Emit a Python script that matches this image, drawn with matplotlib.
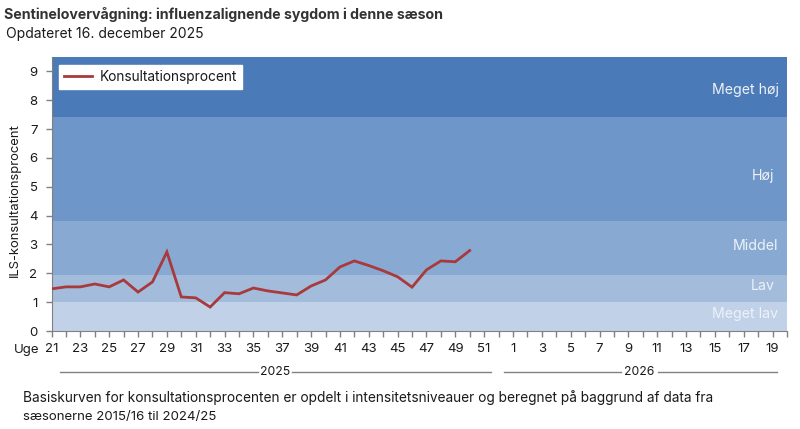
import matplotlib
matplotlib.use('Agg')
import matplotlib.pyplot as plt
from matplotlib.lines import Line2D
from matplotlib.transforms import blended_transform_factory

plt.rcParams['font.family'] = ['Inter', 'DejaVu Sans']

# Week axis runs 21-52 of 2025 and 1-20 of 2026
week_labels = list(range(21, 53)) + list(range(1, 21))
ils_values = [1.46, 1.53, 1.53, 1.63, 1.53, 1.77, 1.35, 1.70, 2.74, 1.18,
              1.15, 0.83, 1.33, 1.29, 1.49, 1.39, 1.32, 1.25, 1.56, 1.77,
              2.22, 2.43, 2.27, 2.09, 1.88, 1.52, 2.12, 2.43, 2.40, 2.79]
band_edges = [0, 1.0, 1.94, 3.8, 7.43, 9.5]
band_colors = ['#c0d1e8', '#a3bcdc', '#88aad2', '#6e96c8', '#4a7ab7']
band_names = ['Meget lav', 'Lav', 'Middel', 'H\u00f8j', 'Meget h\u00f8j']

W, H = 800, 429
GREY = '#808080'
TXT = '#1a1a1a'
LINE = '#a83a3c'

fig = plt.figure(figsize=(W / 100, H / 100), dpi=100)
ax = fig.add_axes([51.5 / W, 1 - 331 / H, 735.5 / W, 274 / H])

# band label anchors, right edge and centre in pixels
label_right = [778, 775, 778, 774, 779]
label_mid = [314, 286, 246, 176, 90]
for i, name in enumerate(band_names):
    ax.axhspan(band_edges[i], band_edges[i + 1], color=band_colors[i], lw=0, zorder=0)
    fig.text(label_right[i] / W, 1 - label_mid[i] / H, name, ha='right', va='center',
             color='#eef2f8', fontsize=10.2)

x = list(range(len(ils_values)))
ax.plot(x, ils_values, color=LINE, lw=2, solid_joinstyle='miter', zorder=3)

ax.set_xlim(0, len(week_labels) - 1)
ax.set_ylim(0, 9.5)
ax.set_yticks(range(0, 10))
ax.set_xticks(range(len(week_labels)))
ax.set_xticklabels([str(w) if i % 2 == 0 else '' for i, w in enumerate(week_labels)])
ax.tick_params(axis='both', color=GREY, length=4, width=1, labelsize=9.5, labelcolor=TXT)
ax.tick_params(axis='x', pad=5)
ax.tick_params(axis='y', pad=6)
for side in ['top', 'right']:
    ax.spines[side].set_visible(False)
for side in ['left', 'bottom']:
    ax.spines[side].set_color(GREY)
ax.set_ylabel('ILS-konsultationsprocent', fontsize=9.4, color=TXT)
ax.yaxis.set_label_coords(-30.5 / 735.5, (331 - 200) / 274)

# white legend box in the top left corner
handle = Line2D([0], [0], color=LINE, lw=2)
leg = ax.legend([handle], ['Konsultationsprocent'], loc='upper left',
                bbox_to_anchor=(7.5 / 735.5, 1 - 8 / 274), borderaxespad=0,
                fancybox=False, framealpha=1, edgecolor='white', facecolor='white',
                fontsize=9.85, handlelength=2.05, handletextpad=0.6, borderpad=0.35)
for t in leg.get_texts():
    t.set_color(TXT)

# year brackets under the week labels
trans = blended_transform_factory(ax.transData, fig.transFigure)
y_year = 1 - 372 / H
year_rows = [('2025', 0.6, 14.32, 16.68, 30.5), ('2026', 31.4, 39.5, 42.07, 50.3)]
for year, x0, x1, x2, x3 in year_rows:
    ax.plot([x0, x1], [y_year, y_year], transform=trans, color=GREY, lw=1, clip_on=False)
    ax.plot([x2, x3], [y_year, y_year], transform=trans, color=GREY, lw=1, clip_on=False)
    ax.text((x1 + x2) / 2, y_year, year, transform=trans, ha='center', va='center',
            fontsize=8.8, color=TXT)

fig.text(14 / W, 1 - 350 / H, 'Uge', fontsize=9.5, color=TXT, va='center')
fig.text(4 / W, 1 - 14 / H, 'Sentineloverv\u00e5gning: influenzalignende sygdom i denne s\u00e6son',
         fontsize=10.2, fontweight='bold', color='#333333', va='center')
fig.text(6 / W, 1 - 34 / H, 'Opdateret 16. december 2025', fontsize=10, color=TXT, va='center')
fig.text(23 / W, 1 - 398 / H,
         'Basiskurven for konsultationsprocenten er opdelt i intensitetsniveauer og beregnet p\u00e5 baggrund af data fra',
         fontsize=9.85, color=TXT, va='center')
fig.text(23 / W, 1 - 417 / H, 's\u00e6sonerne 2015/16 til 2024/25', fontsize=9.5, color=TXT, va='center')

fig.savefig('out.png', dpi=100)
